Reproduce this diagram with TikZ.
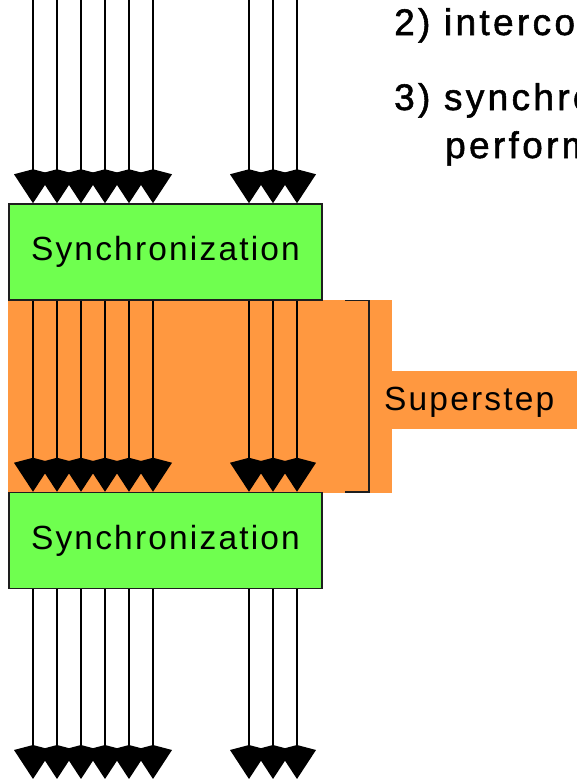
\documentclass[tikz,border=0pt]{standalone}
\usepackage{fontspec}
\setmainfont{Liberation Sans}
\newfontfamily\boxfont[LetterSpace=6.5]{Liberation Sans}
\newfontfamily\topfont[LetterSpace=9,FakeBold=1.5]{Liberation Sans}
\usetikzlibrary{arrows.meta}
\definecolor{boxgreen}{RGB}{111,255,79}
\definecolor{steporange}{RGB}{255,152,64}
\definecolor{edgecol}{RGB}{30,30,30}
\begin{document}
\begin{tikzpicture}[x=1pt,y=-1pt,
  syncbox/.style={draw=edgecol, line width=1.5pt, fill=boxgreen, minimum width=313pt,
    minimum height=96pt, inner sep=0pt, font=\boxfont\fontsize{33.5}{40}\selectfont},
  flow/.style={line width=1.6pt, -{Kite[length=34pt,width=38pt,inset=5pt]}},
  lbl/.style={inner sep=0pt, anchor=base west},
  toptext/.style={lbl, font=\topfont\fontsize{37}{44}\selectfont},
  bracketline/.style={draw=edgecol, line width=1.5pt}
]
\useasboundingbox (0,0) rectangle (577,779);
\clip (0,0) rectangle (577,779);
\fill[white] (0,0) rectangle (577,779);
% superstep band
\fill[steporange] (8,300) rectangle (392,493);
\fill[steporange] (392,371) rectangle (580,429);
% synchronization boxes
\node[syncbox] (s1) at (165.5,252) {Synchronization};
\node[syncbox] (s2) at (165.5,540.5) {Synchronization};
% arrows
\foreach \x [count=\i] in {33,57,81,105,129,153,249,273,297} {
  \coordinate (in\i) at (\x,-5);
  \coordinate (out\i) at (\x,779);
  \draw[flow] (in\i) -- (in\i |- s1.north);
  \draw[flow] (in\i |- s1.south) -- (in\i |- s2.north);
  \draw[flow] (in\i |- s2.south) -- (out\i);
}
% bracket
\coordinate (bt) at (345,300.5);
\coordinate (bb) at (345,492);
\draw[bracketline] (bt) -- (369,300.5) -- (369,492) -- (bb);
\node[lbl, font=\boxfont\fontsize{33.5}{40}\selectfont] (ss) at (384,410.5) {Superstep};
% top-right text
\node[toptext] (t2) at (394,35) {2) interco};
\node[toptext] (t3) at (394,110) {3) synchro};
\node[toptext] (t3b) at (445,158) {perform};
\end{tikzpicture}
\end{document}
